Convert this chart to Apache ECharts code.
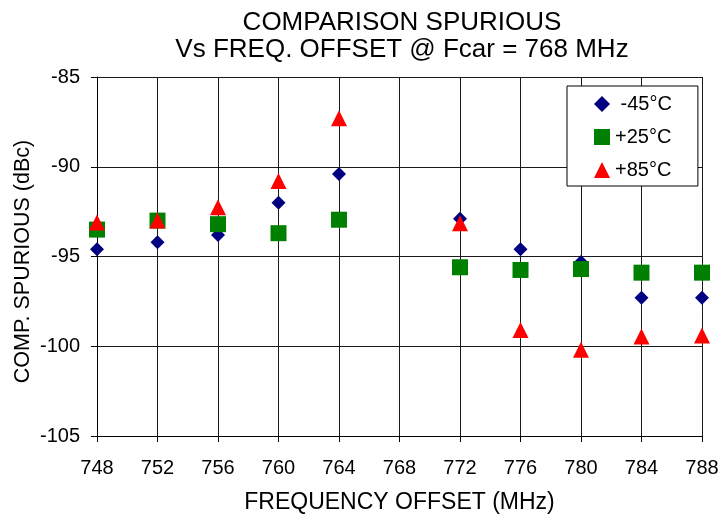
<!DOCTYPE html>
<html>
<head>
<meta charset="utf-8">
<script src="https://cdn.jsdelivr.net/npm/echarts@6/dist/echarts.min.js"></script>
<style>html,body{margin:0;padding:0;background:#fff;}#c{width:720px;height:518px;}</style>
</head>
<body>
<div id="c"></div>
<script>
const freqs = [748, 752, 756, 760, 764, 772, 776, 780, 784, 788];
const seriesNames = ['-45°C', '+25°C', '+85°C'];
const valsM45 = [-94.6, -94.2, -93.8, -92.0, -90.4, -92.9, -94.6, -95.3, -97.3, -97.3];
const valsP25 = [-93.5, -93.0, -93.2, -93.7, -92.95, -95.6, -95.75, -95.7, -95.9, -95.9];
const valsP85 = [-93.1, -93.0, -92.25, -90.8, -87.3, -93.15, -99.1, -100.2, -99.45, -99.4];
const titleLines = ['COMPARISON SPURIOUS', 'Vs FREQ. OFFSET @ Fcar = 768 MHz'];
const xTitle = 'FREQUENCY OFFSET (MHz)';
const yTitle = 'COMP. SPURIOUS (dBc)';

const font = 'Liberation Sans, Arial, Helvetica, sans-serif';
const pair = (v) => freqs.map((f, i) => [f, v[i]]);
const chart = echarts.init(document.getElementById('c'), null, {renderer: 'canvas'});
chart.setOption({
  animation: false,
  backgroundColor: '#fff',
  title: {
    text: titleLines.join('\n'),
    left: 397, textAlign: 'center', top: 4,
    textStyle: {fontFamily: font, fontSize: 26, fontWeight: 'normal', color: '#000', lineHeight: 27}
  },
  grid: {left: 97, right: 18, top: 77, bottom: 82, containLabel: false, outerBoundsMode: 'none'},
  xAxis: {
    type: 'value', min: 748, max: 788, interval: 4,
    name: xTitle, nameLocation: 'middle', nameGap: 55,
    nameTextStyle: {fontFamily: font, fontSize: 23, color: '#000'},
    axisLine: {onZero: false, lineStyle: {color: '#000', width: 1}},
    axisTick: {show: true, length: 6, inside: false, lineStyle: {color: '#000'}},
    axisLabel: {fontFamily: font, fontSize: 20, color: '#000', margin: 22},
    splitLine: {show: true, lineStyle: {color: '#1a1a1a', width: 1}}
  },
  yAxis: {
    type: 'value', min: -105, max: -85, interval: 5,
    name: yTitle, nameLocation: 'middle', nameGap: 63, nameRotate: 90, nameMoveOverlap: false,
    nameTextStyle: {fontFamily: font, fontSize: 21.5, color: '#000', padding: [0, 10, 0, 0]},
    axisLine: {show: true, onZero: false, lineStyle: {color: '#000', width: 1}},
    axisTick: {show: true, length: 6, lineStyle: {color: '#000'}},
    axisLabel: {fontFamily: font, fontSize: 20, color: '#000', margin: 17},
    splitLine: {show: true, lineStyle: {color: '#1a1a1a', width: 1}}
  },
  legend: {
    orient: 'vertical', left: 567, top: 86,
    padding: [8, 26, 6, 27],
    itemGap: 13,
    itemWidth: 16, itemHeight: 16,
    borderColor: '#000', borderWidth: 1, backgroundColor: '#fff', borderRadius: 0,
    formatter: (n) => n.charAt(0) === '-' ? ' ' + n : n,
    textStyle: {fontFamily: font, fontSize: 20, color: '#000'},
    data: [
      {name: seriesNames[0], icon: 'diamond'},
      {name: seriesNames[1], icon: 'rect'},
      {name: seriesNames[2], icon: 'triangle'}
    ]
  },
  series: [
    {name: seriesNames[0], type: 'scatter', symbol: 'diamond', symbolSize: 14, itemStyle: {color: '#000080', opacity: 1}, data: pair(valsM45)},
    {name: seriesNames[1], type: 'scatter', symbol: 'rect', symbolSize: 16, itemStyle: {color: '#008000', opacity: 1}, data: pair(valsP25)},
    {name: seriesNames[2], type: 'scatter', symbol: 'triangle', symbolSize: 16, itemStyle: {color: '#ff0000', opacity: 1}, data: pair(valsP85)}
  ]
});
</script>
</body>
</html>
